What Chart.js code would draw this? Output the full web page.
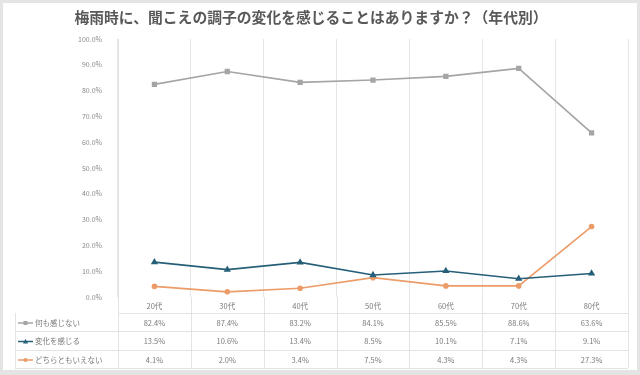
<!DOCTYPE html>
<html>
<head>
<meta charset="utf-8">
<script src="https://cdn.jsdelivr.net/npm/chart.js@4.4.0/dist/chart.umd.min.js"></script>
<style>
    html, body { margin: 0; padding: 0; background: #e4e4e4; }
    #wrap { position: absolute; left: 3px; top: 3px; width: 634px; height: 367px; background: #fff; }
    canvas { position: absolute; left: -3px; top: -3px; }
</style>
</head>
<body>
<div id="wrap"><canvas id="chart" width="640" height="375"></canvas></div>
<script>
// Data
const categories = ['20代', '30代', '40代', '50代', '60代', '70代', '80代'];
const seriesNames = ['何も感じない', '変化を感じる', 'どちらともいえない'];
const nothingValues = [82.4, 87.4, 83.2, 84.1, 85.5, 88.6, 63.6];
const changeValues = [13.5, 10.6, 13.4, 8.5, 10.1, 7.1, 9.1];
const neitherValues = [4.1, 2.0, 3.4, 7.5, 4.3, 4.3, 27.3];
const chartTitle = '梅雨時に、聞こえの調子の変化を感じることはありますか？（年代別）';

const colors = ['#a5a5a5', '#265f78', '#eb9c68'];
const markers = ['rect', 'triangle', 'circle'];
const FONT = '"Noto Sans CJK JP", "Noto Sans", sans-serif';

// Table rows under the chart
const tableRows = [
    { y0: 297, y1: 313 },
    { y0: 313, y1: 331 },
    { y0: 331, y1: 350 },
    { y0: 350, y1: 368 }
];

const dataTablePlugin = {
    id: 'dataTable',
    afterDraw(chart) {
        const ctx = chart.ctx;
        const xScale = chart.scales.x;
        const area = chart.chartArea;
        const left = 15;
        const step = (area.right - area.left) / categories.length;
        const allValues = [nothingValues, changeValues, neitherValues];

        ctx.save();

        // title
        ctx.font = 'bold 14.8px ' + FONT;
        ctx.fillStyle = '#595959';
        ctx.textAlign = 'center';
        ctx.textBaseline = 'middle';
        ctx.fillText(chartTitle, 311, 17);

        ctx.strokeStyle = '#e3e3e3';
        ctx.lineWidth = 1;

        // horizontal lines
        tableRows.forEach((r, i) => {
            ctx.beginPath();
            ctx.moveTo(i === 0 ? area.left : left, r.y1 + 0.5);
            ctx.lineTo(area.right, r.y1 + 0.5);
            ctx.stroke();
        });
        // vertical lines
        for (let i = 0; i <= categories.length; i++) {
            const x = Math.round(area.left + step * i) + 0.5;
            ctx.beginPath();
            ctx.moveTo(x, area.bottom);
            ctx.lineTo(x, tableRows[3].y1);
            ctx.stroke();
        }
        ctx.beginPath();
        ctx.moveTo(left + 0.5, tableRows[0].y1);
        ctx.lineTo(left + 0.5, tableRows[3].y1);
        ctx.stroke();

        ctx.font = '7.5px ' + FONT;
        ctx.fillStyle = '#7a7a7a';
        ctx.textAlign = 'center';

        // header
        categories.forEach((c, i) => {
            const x = xScale.getPixelForValue(i);
            ctx.fillText(c, x, (tableRows[0].y0 + tableRows[0].y1) / 2 + 1);
        });

        // rows
        allValues.forEach((vals, s) => {
            const r = tableRows[s + 1];
            const cy = (r.y0 + r.y1) / 2 + 1;
            ctx.textAlign = 'center';
            ctx.fillStyle = '#7a7a7a';
            vals.forEach((v, i) => {
                ctx.fillText(v.toFixed(1) + '%', xScale.getPixelForValue(i), cy);
            });

            // legend key
            ctx.strokeStyle = colors[s];
            ctx.fillStyle = colors[s];
            ctx.lineWidth = 1.5;
            ctx.beginPath();
            ctx.moveTo(18, cy);
            ctx.lineTo(33, cy);
            ctx.stroke();
            const mx = 25.5;
            ctx.beginPath();
            if (markers[s] === 'rect') {
                ctx.fillRect(mx - 2, cy - 2, 4, 4);
            } else if (markers[s] === 'triangle') {
                ctx.moveTo(mx, cy - 2.5);
                ctx.lineTo(mx + 2.5, cy + 2);
                ctx.lineTo(mx - 2.5, cy + 2);
                ctx.closePath();
                ctx.fill();
            } else {
                ctx.arc(mx, cy, 2, 0, Math.PI * 2);
                ctx.fill();
            }
            ctx.fillStyle = '#7a7a7a';
            ctx.textAlign = 'left';
            ctx.fillText(seriesNames[s], 35, cy);
            ctx.strokeStyle = '#e3e3e3';
            ctx.lineWidth = 1;
        });
        ctx.restore();
    }
};

function makeDataset(label, values, i) {
    return {
        label: label,
        data: values,
        borderColor: colors[i],
        backgroundColor: colors[i],
        borderWidth: 1.6,
        pointStyle: markers[i],
        pointRadius: i === 2 ? 2 : 2.6,
        pointHoverRadius: 3,
        tension: 0
    };
}

new Chart(document.getElementById('chart'), {
    type: 'line',
    data: {
        labels: categories,
        datasets: [
            makeDataset(seriesNames[0], nothingValues, 0),
            makeDataset(seriesNames[1], changeValues, 1),
            makeDataset(seriesNames[2], neitherValues, 2)
        ]
    },
    options: {
        responsive: false,
        animation: false,
        layout: {
            padding: { left: 0, right: 12, top: 39, bottom: 78 }
        },
        plugins: {
            legend: { display: false },
            tooltip: { enabled: false },
            title: { display: false }
        },
        scales: {
            x: {
                offset: true,
                grid: { offset: true, color: '#e6e6e6', drawTicks: false },
                border: { display: false },
                ticks: { display: false }
            },
            y: {
                min: 0,
                max: 100,
                afterFit: scale => { scale.width = 118; },
                grid: { display: false },
                border: { color: '#e3e3e3' },
                ticks: {
                    stepSize: 10,
                    padding: 8,
                    color: '#8a8a8a',
                    font: { family: FONT, size: 7 },
                    callback: v => v.toFixed(1) + '%'
                }
            }
        }
    },
    plugins: [dataTablePlugin]
});
</script>
</body>
</html>
